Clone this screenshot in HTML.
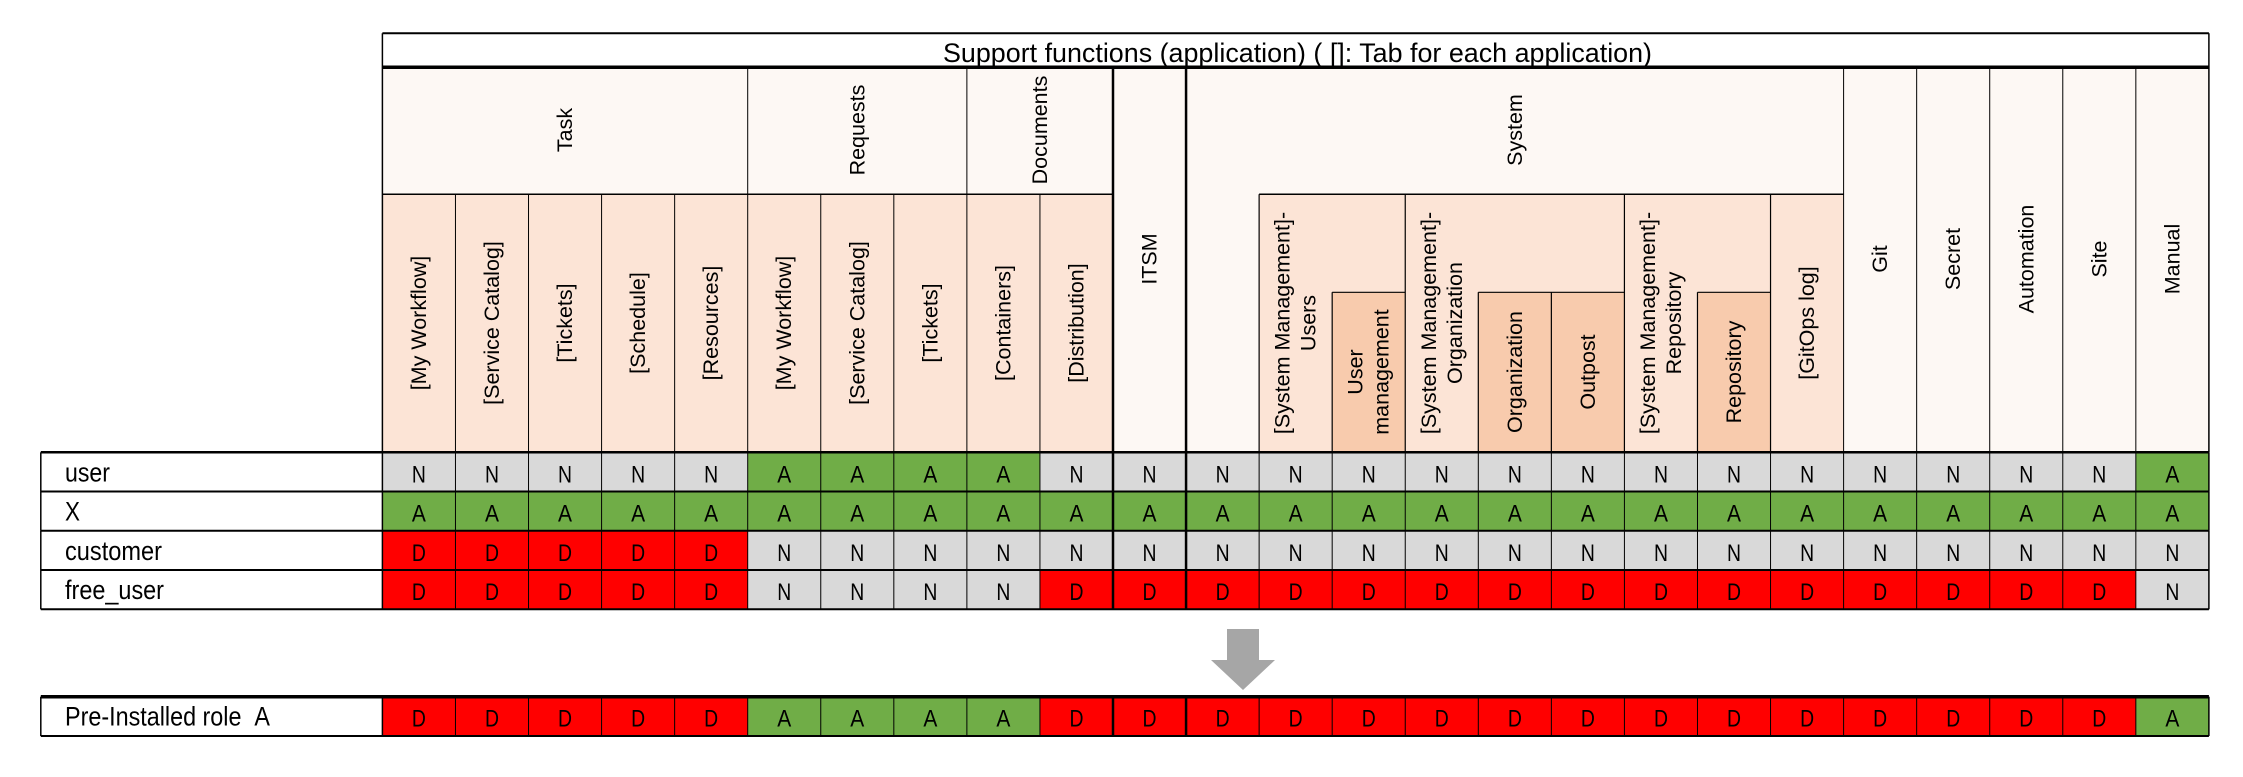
<!DOCTYPE html>
<html><head><meta charset="utf-8"><style>
html,body{margin:0;padding:0;background:#fff;}
svg{display:block;font-family:"Liberation Sans",Arial,sans-serif;}
</style></head><body>
<svg id="chart" width="2243" height="777" viewBox="0 0 2243 777" xmlns="http://www.w3.org/2000/svg"></svg>
<script>
const rowLabels = ["user","X","customer","free_user"];
const rowValues = [
  "NNNNNAAAANNNNNNNNNNNNNNNA",
  "AAAAAAAAAAAAAAAAAAAAAAAAA",
  "DDDDDNNNNNNNNNNNNNNNNNNNN",
  "DDDDDNNNNDDDDDDDDDDDDDDDN"
];
const resultLabel = "Pre-Installed role\u00a0\u00a0A";
const resultValues = "DDDDDAAAADDDDDDDDDDDDDDDA";
const labelWidths = [45,15,97,99];

const svg = document.getElementById('chart');
const NS = "http://www.w3.org/2000/svg";
const X0 = 382.4, CW = 73.06, LX = 40.8;
const colX = i => X0 + i*CW;
const fill = {N:"#d9d9d9",A:"#70ad47",D:"#ff0000"};
function mk(tag, attrs, parent){const e=document.createElementNS(NS,tag);for(const k in attrs)e.setAttribute(k,attrs[k]);(parent||svg).appendChild(e);return e;}
function rect(x,y,w,h,c,name){const r=mk('rect',{x:x,y:y,width:w,height:h,fill:c});


return r;}
function line(x1,y1,x2,y2,sw,name){const l=mk('line',{x1:x1,y1:y1,x2:x2,y2:y2,stroke:"#000","stroke-width":sw});


return l;}
function vtext(str,cx,cy,size,name){const t=mk('text',{x:cx,y:cy,"font-size":size,"text-anchor":"middle","dominant-baseline":"central",transform:`rotate(-90 ${cx} ${cy})`,fill:"#000"});t.textContent=str;


return t;}
function vtext2(a,b,cx,cy,size,name){vtext(a,cx-13,cy,size,name+'-line1');vtext(b,cx+13,cy,size,name+'-line2');}

const CREAM="#fdf8f4", PINK="#fce4d6", DARK="#f8cbad";
const T1=33.3, T2=67.3, T3=194.3, TM=292.3, T4=452.3;
rect(X0,T1,colX(25)-X0,T2-T1,"#fff","title-cell");
rect(X0,T2,colX(25)-X0,T4-T2,CREAM,"header-background");
rect(X0,T3,colX(10)-X0,T4-T3,PINK,"sub-header-background");
rect(colX(12),T3,colX(20)-colX(12),T4-T3,PINK,"system-sub-header-background");
rect(colX(13),TM,CW,T4-TM,DARK,"user-management-cell");
rect(colX(15),TM,2*CW,T4-TM,DARK,"organization-outpost-cells");
rect(colX(18),TM,CW,T4-TM,DARK,"repository-cell");

const tt=mk('text',{x:943,y:62,"font-size":27,textLength:709,lengthAdjust:"spacingAndGlyphs"});
tt.textContent="Support functions (application) ( []: Tab for each application)";



const GY=130, SY=323, FY=259;
vtext("Task",(colX(0)+colX(5))/2,GY,21.5,"group-task");
vtext("Requests",(colX(5)+colX(8))/2,GY,21.5,"group-requests");
vtext("Documents",(colX(8)+colX(10))/2,GY,21.5,"group-documents");
vtext("System",(colX(11)+colX(20))/2,GY,21.5,"group-system");
const subs=["[My Workflow]","[Service Catalog]","[Tickets]","[Schedule]","[Resources]","[My Workflow]","[Service Catalog]","[Tickets]","[Containers]","[Distribution]"];
subs.forEach((s,i)=>vtext(s,colX(i)+CW/2,SY,21.5,"sub-header-"+i));
vtext("ITSM",colX(10)+CW/2,FY,21.5,"header-itsm");
vtext2("[System Management]-","Users",colX(12)+CW/2,SY,21.5,"header-sm-users");
vtext2("User","management",colX(13)+CW/2,372,21.5,"header-user-management");
vtext2("[System Management]-","Organization",colX(14)+CW/2,SY,21.5,"header-sm-organization");
vtext("Organization",colX(15)+CW/2,372,21.5,"header-organization");
vtext("Outpost",colX(16)+CW/2,372,21.5,"header-outpost");
vtext2("[System Management]-","Repository",colX(17)+CW/2,SY,21.5,"header-sm-repository");
vtext("Repository",colX(18)+CW/2,372,21.5,"header-repository");
vtext("[GitOps log]",colX(19)+CW/2,SY,21.5,"header-gitops-log");
["Git","Secret","Automation","Site","Manual"].forEach((s,i)=>vtext(s,colX(20+i)+CW/2,FY,21.5,"header-"+s.toLowerCase()));

line(X0,T1,colX(25),T1,2,"title-top-border");
line(X0,T2,colX(25),T2,3.5,"title-bottom-border");
line(X0,T1,X0,T4,1.5);
line(colX(25),T1,colX(25),T4,1.5);
line(X0,T3,colX(10),T3,1.5);
line(colX(12),T3,colX(20),T3,1.5);
[5,8].forEach(i=>line(colX(i),T2,colX(i),T4,1));
[1,2,3,4,6,7,9].forEach(i=>line(colX(i),T3,colX(i),T4,1));
line(colX(10),T2,colX(10),T4,2.5);
line(colX(11),T2,colX(11),T4,2.5);
[20,21,22,23,24].forEach(i=>line(colX(i),T2,colX(i),T4,1));
[12,14,17,19].forEach(i=>line(colX(i),T3,colX(i),T4,1.2));
[13,15,16,18].forEach(i=>line(colX(i),TM,colX(i),T4,1.2));
line(colX(13),TM,colX(14),TM,1.2);
line(colX(15),TM,colX(17),TM,1.2);
line(colX(18),TM,colX(19),TM,1.2);

const R0=452.3, RH=39.25;
function drawRow(label,vals,y,h,lw,key){
  rect(LX,y,X0-LX,h,"#fff",key+"-label-cell");
  const lt=mk('text',{x:65,y:y+29,"font-size":27,textLength:lw,lengthAdjust:"spacingAndGlyphs"});
  lt.textContent=label;
  
  
  for(let i=0;i<vals.length;i++){
    const v=vals[i];
    rect(colX(i),y,CW,h,fill[v],key+"-cell-"+i);
    const t=mk('text',{x:colX(i)+CW/2,y:y+30,"font-size":24,"text-anchor":"middle",textLength:14,lengthAdjust:"spacingAndGlyphs"});
    t.textContent=v;
    
    
  }
  for(let i=1;i<vals.length;i++){line(colX(i),y,colX(i),y+h,(i==10||i==11)?2.5:1);}
  line(LX,y,LX,y+h,1.5);line(X0,y,X0,y+h,1.5);line(colX(25),y,colX(25),y+h,1.5);
}
rowLabels.forEach((l,r)=>drawRow(l,rowValues[r],R0+r*RH,RH,labelWidths[r],"row-"+l.replace('_','-')));
for(let r=0;r<=rowLabels.length;r++){line(LX,R0+r*RH,colX(25),R0+r*RH,r==0?2.5:2,"row-border");}

const ar=mk('polygon',{points:"1227,629 1259,629 1259,660 1275,660 1243,690 1211,660 1227,660",fill:"#a6a6a6"});



const PY=696.7, PH=39.3;
drawRow(resultLabel,resultValues,PY,PH,205,"row-pre-installed");
line(LX,PY,colX(25),PY,3.5,"result-top-border");
line(LX,PY+PH,colX(25),PY+PH,2,"result-bottom-border");
</script>
</body></html>
